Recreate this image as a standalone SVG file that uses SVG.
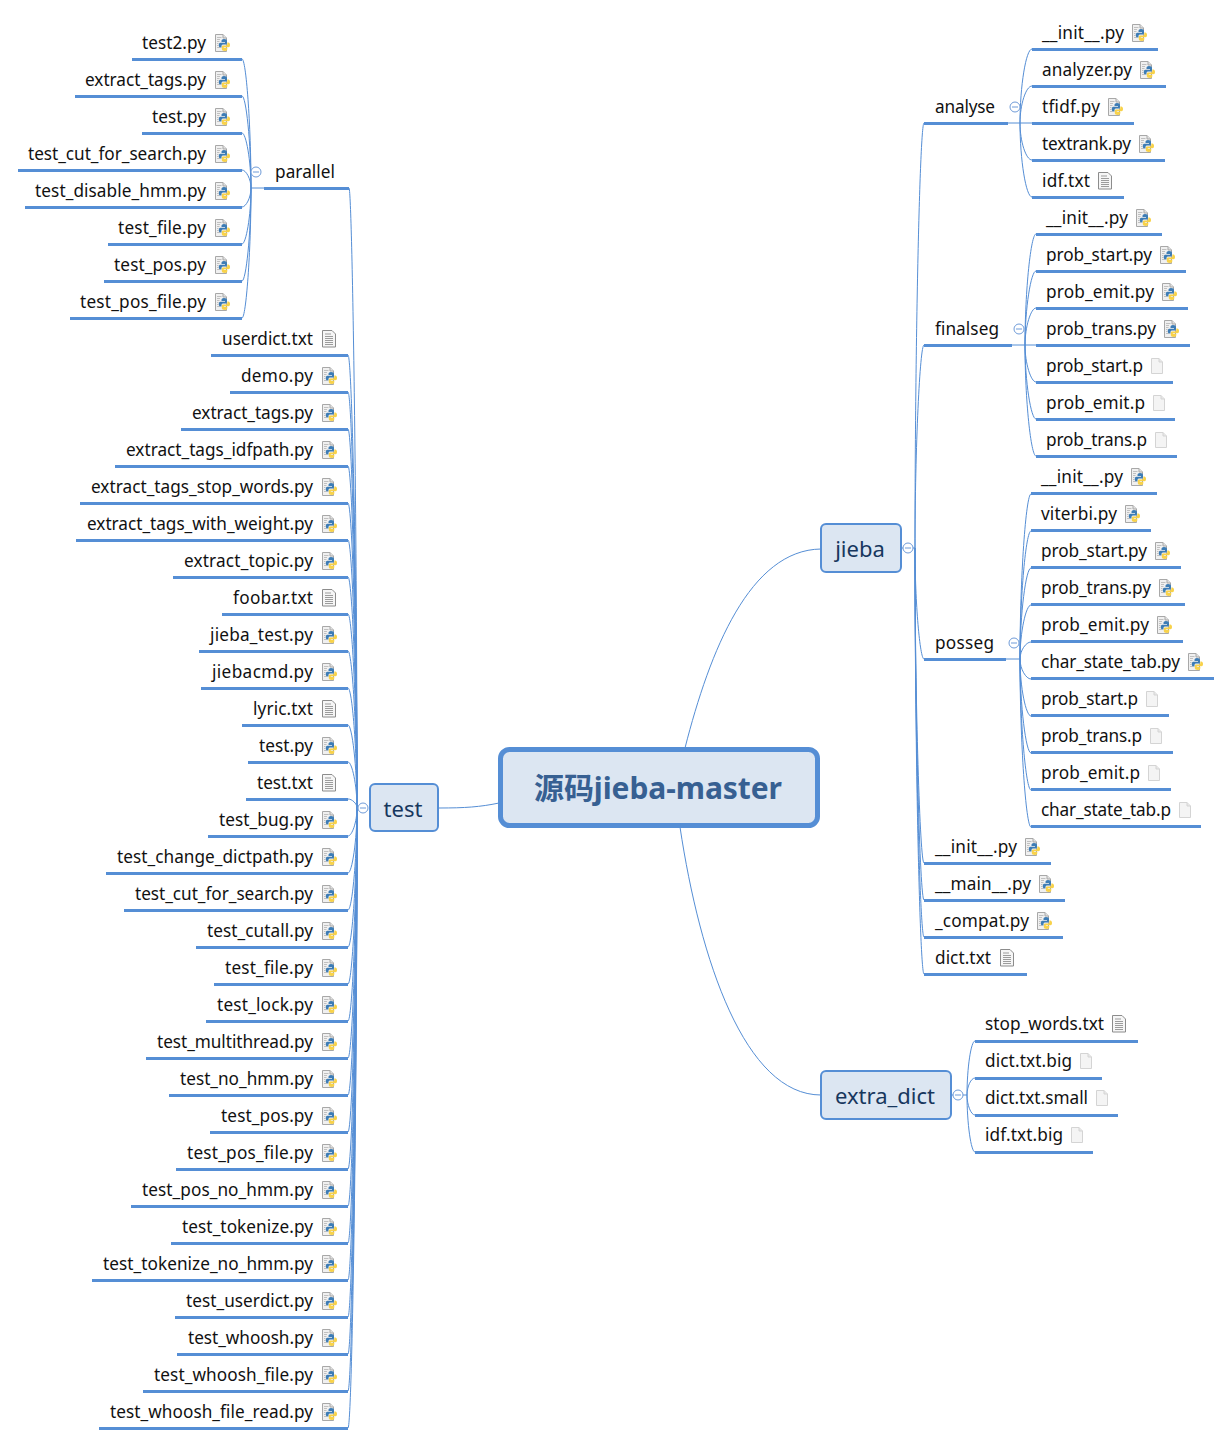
<svg xmlns="http://www.w3.org/2000/svg" width="1232" height="1445" viewBox="0 0 1232 1445">
<style>
text{font-family:"Noto Sans","Noto Sans CJK SC",sans-serif;font-size:17.200px;fill:#111}
.e{text-anchor:end}
.u{stroke:#558ed5;stroke-width:3;fill:none;transform:translateY(.5px)}
[id^=s] .u{transform:translateY(-.5px)}
.b{fill:#dce6f2;stroke:#558ed5;stroke-width:2}
.m{font-size:22px;fill:#17375e;text-anchor:middle}
.t{font-size:30px;font-weight:700;fill:#376092;text-anchor:middle}
#c path{fill:none;stroke:#558ed5;stroke-width:1}
.k circle{fill:#fff;stroke:#6f9bd8;stroke-width:1}
.k path{stroke:#6f9bd8;stroke-width:1}
</style>
<defs>
<symbol id="py" width="17" height="19" viewBox="0 0 17 19">
<path d="M.5.500H8L11.500 4V17.500H.5Z" fill="#f0f0f0" stroke="#a8a8a8"/>
<path d="M8 .5V4H11.500" fill="#e2e2e2" stroke="#a8a8a8"/>
<path d="M2 3.500H6.500M2 5.500H5M2 7.500H4.500M2 9.500H3.500M2 11.500H3.500M2 13.500H5" stroke="#c0c0c0" fill="none"/>
<path d="M9 5C7 5 6.500 6 6.500 7V8H10V8.700H5.500C4 8.700 3.800 10 3.800 11.200C3.800 12.500 4.500 13.500 5.500 13.500H6.500V12C6.500 11 7.300 10.500 8.200 10.500H10.500C11.500 10.500 12 9.800 12 9V7C12 5.800 11 5 9 5Z" fill="#3d7cb5"/>
<path d="M9 5C7 5 6.500 6 6.500 7V8H10V8.700H5.500C4 8.700 3.800 10 3.800 11.200C3.800 12.500 4.500 13.500 5.500 13.500H6.500V12C6.500 11 7.300 10.500 8.200 10.500H10.500C11.500 10.500 12 9.800 12 9V7C12 5.800 11 5 9 5Z" fill="#f8d24a" transform="rotate(180 9.400 11)"/>
</symbol>
<symbol id="tx" width="14" height="18" viewBox="0 0 14 18">
<path d="M.5.500H10L13.500 4V17H.5Z" fill="#f6f6f6" stroke="#8c8c8c"/>
<path d="M3 4H9M3 6.500H11M3 8.500H11M3 10.500H11M3 12.500H11M3 14.500H11" stroke="#9c9c9c" fill="none"/>
</symbol>
<symbol id="bl" width="12" height="16" viewBox="0 0 12 16">
<path d="M.5.500H8L11.500 4V15.500H.5Z" fill="#f4f4f4" stroke="#d4d4d4"/>
<path d="M8 .5V4H11.500" fill="#e8e8e8" stroke="#d4d4d4"/>
</symbol>
<g id="minus" class="k"><circle r="5"/><path d="M-3 0H3"/></g>
</defs>
<rect width="1232" height="1445" fill="#fff"/>
<g id="c">
<path d="M439 808C465 808 480 807 499 803"/>
<path d="M685 748C710 650 750 550 821 549"/>
<path d="M680 827C700 960 745 1095 821 1095"/>
<path d="M357 808C357 498 352 188 349 188"/>
<path d="M357 808C357 581.500 352 355 348 355"/>
<path d="M357 808C357 600 352 392 348 392"/>
<path d="M357 808C357 618.500 352 429 348 429"/>
<path d="M357 808C357 637 352 466 348 466"/>
<path d="M357 808C357 655.500 352 503 348 503"/>
<path d="M357 808C357 674 352 540 348 540"/>
<path d="M357 808C357 692.500 352 577 348 577"/>
<path d="M357 808C357 711 352 614 348 614"/>
<path d="M357 808C357 729.500 352 651 348 651"/>
<path d="M357 808C357 748 352 688 348 688"/>
<path d="M357 808C357 766.500 352 725 348 725"/>
<path d="M357 808C357 785 352 762 348 762"/>
<path d="M357 808C357 803.500 352 799 348 799"/>
<path d="M357 808C357 822 352 836 348 836"/>
<path d="M357 808C357 840.500 352 873 348 873"/>
<path d="M357 808C357 859 352 910 348 910"/>
<path d="M357 808C357 877.500 352 947 348 947"/>
<path d="M357 808C357 896 352 984 348 984"/>
<path d="M357 808C357 914.500 352 1021 348 1021"/>
<path d="M357 808C357 933 352 1058 348 1058"/>
<path d="M357 808C357 951.500 352 1095 348 1095"/>
<path d="M357 808C357 970 352 1132 348 1132"/>
<path d="M357 808C357 988.500 352 1169 348 1169"/>
<path d="M357 808C357 1007 352 1206 348 1206"/>
<path d="M357 808C357 1025.500 352 1243 348 1243"/>
<path d="M357 808C357 1044 352 1280 348 1280"/>
<path d="M357 808C357 1062.500 352 1317 348 1317"/>
<path d="M357 808C357 1081 352 1354 348 1354"/>
<path d="M357 808C357 1099.500 352 1391 348 1391"/>
<path d="M357 808C357 1118 352 1428 348 1428"/>
<path d="M264 188H251"/>
<path d="M251 188C251 123.500 246 59 242 59"/>
<path d="M251 188C251 142 246 96 242 96"/>
<path d="M251 188C251 160.500 246 133 242 133"/>
<path d="M251 188C251 179 246 170 242 170"/>
<path d="M251 188C251 197.500 246 207 242 207"/>
<path d="M251 188C251 216 246 244 242 244"/>
<path d="M251 188C251 234.500 246 281 242 281"/>
<path d="M251 188C251 253 246 318 242 318"/>
<path d="M902 548H915"/>
<path d="M915 548C915 335.500 920 123 924 123"/>
<path d="M915 548C915 446.500 920 345 924 345"/>
<path d="M915 548C915 603.500 920 659 924 659"/>
<path d="M915 548C915 705.500 920 863 924 863"/>
<path d="M915 548C915 724 920 900 924 900"/>
<path d="M915 548C915 742.500 920 937 924 937"/>
<path d="M915 548C915 761 920 974 924 974"/>
<path d="M1008 123H1032"/>
<path d="M1020 123C1020 86 1026 49 1032 49"/>
<path d="M1020 123C1020 104.500 1026 86 1032 86"/>
<path d="M1020 123C1020 141.500 1026 160 1032 160"/>
<path d="M1020 123C1020 160 1026 197 1032 197"/>
<path d="M1012 345H1036"/>
<path d="M1025 345C1025 289.500 1031 234 1036 234"/>
<path d="M1025 345C1025 308 1031 271 1036 271"/>
<path d="M1025 345C1025 326.500 1031 308 1036 308"/>
<path d="M1025 345C1025 363.500 1031 382 1036 382"/>
<path d="M1025 345C1025 382 1031 419 1036 419"/>
<path d="M1025 345C1025 400.500 1031 456 1036 456"/>
<path d="M1006 659H1020"/>
<path d="M1020 659C1020 576.500 1026 494 1031 494"/>
<path d="M1020 659C1020 595 1026 531 1031 531"/>
<path d="M1020 659C1020 613.500 1026 568 1031 568"/>
<path d="M1020 659C1020 632 1026 605 1031 605"/>
<path d="M1020 659C1020 650.500 1026 642 1031 642"/>
<path d="M1020 659C1020 669 1026 679 1031 679"/>
<path d="M1020 659C1020 687.500 1026 716 1031 716"/>
<path d="M1020 659C1020 706 1026 753 1031 753"/>
<path d="M1020 659C1020 724.500 1026 790 1031 790"/>
<path d="M1020 659C1020 743 1026 827 1031 827"/>
<path d="M952 1095H967"/>
<path d="M967 1095C967 1068 971 1041 975 1041"/>
<path d="M967 1095C967 1086.500 971 1078 975 1078"/>
<path d="M967 1095C967 1105 971 1115 975 1115"/>
<path d="M967 1095C967 1123.500 971 1152 975 1152"/>
</g>
<g id="root"><rect x="500.500" y="749.500" width="317" height="76" rx="9" fill="#dce6f2" stroke="#558ed5" stroke-width="5"/><text class="t" x="658" y="799" textLength="248">源码jieba-master</text></g>
<g id="test"><rect class="b" x="370" y="784" width="68" height="47" rx="5"/><text class="m" x="403" y="817">test</text><use href="#minus" x="363" y="808"/></g>
<g id="jieba"><rect class="b" x="821" y="524" width="80" height="48" rx="5"/><text class="m" x="860" y="557">jieba</text><use href="#minus" x="908" y="548"/></g>
<g id="extra_dict"><rect class="b" x="821" y="1071" width="130" height="48" rx="5"/><text class="m" x="885" y="1104">extra_dict</text><use href="#minus" x="958" y="1095"/></g>
<g id="parallel"><path class="u" d="M264 188H349"/><text x="275" y="178" textLength="60">parallel</text><use href="#minus" x="256" y="172"/></g>
<g id="p1"><path class="u" d="M132 59H242"/><text class="e" x="206" y="49" textLength="64">test2.py</text><use href="#py" x="215" y="34"/></g>
<g id="p2"><path class="u" d="M75 96H242"/><text class="e" x="206" y="86" textLength="121">extract_tags.py</text><use href="#py" x="215" y="71"/></g>
<g id="p3"><path class="u" d="M142 133H242"/><text class="e" x="206" y="123" textLength="54">test.py</text><use href="#py" x="215" y="108"/></g>
<g id="p4"><path class="u" d="M18 170H242"/><text class="e" x="206" y="160" textLength="178">test_cut_for_search.py</text><use href="#py" x="215" y="145"/></g>
<g id="p5"><path class="u" d="M25 207H242"/><text class="e" x="206" y="197" textLength="171">test_disable_hmm.py</text><use href="#py" x="215" y="182"/></g>
<g id="p6"><path class="u" d="M108 244H242"/><text class="e" x="206" y="234" textLength="88">test_file.py</text><use href="#py" x="215" y="219"/></g>
<g id="p7"><path class="u" d="M104 281H242"/><text class="e" x="206" y="271" textLength="92">test_pos.py</text><use href="#py" x="215" y="256"/></g>
<g id="p8"><path class="u" d="M70 318H242"/><text class="e" x="206" y="308" textLength="126">test_pos_file.py</text><use href="#py" x="215" y="293"/></g>
<g id="t1"><path class="u" d="M211 355H348"/><text class="e" x="313" y="345" textLength="91">userdict.txt</text><use href="#tx" x="322" y="330"/></g>
<g id="t2"><path class="u" d="M230 392H348"/><text class="e" x="313" y="382" textLength="72">demo.py</text><use href="#py" x="322" y="367"/></g>
<g id="t3"><path class="u" d="M181 429H348"/><text class="e" x="313" y="419" textLength="121">extract_tags.py</text><use href="#py" x="322" y="404"/></g>
<g id="t4"><path class="u" d="M115 466H348"/><text class="e" x="313" y="456" textLength="187">extract_tags_idfpath.py</text><use href="#py" x="322" y="441"/></g>
<g id="t5"><path class="u" d="M80 503H348"/><text class="e" x="313" y="493" textLength="222">extract_tags_stop_words.py</text><use href="#py" x="322" y="478"/></g>
<g id="t6"><path class="u" d="M76 540H348"/><text class="e" x="313" y="530" textLength="226">extract_tags_with_weight.py</text><use href="#py" x="322" y="515"/></g>
<g id="t7"><path class="u" d="M173 577H348"/><text class="e" x="313" y="567" textLength="129">extract_topic.py</text><use href="#py" x="322" y="552"/></g>
<g id="t8"><path class="u" d="M222 614H348"/><text class="e" x="313" y="604" textLength="80">foobar.txt</text><use href="#tx" x="322" y="589"/></g>
<g id="t9"><path class="u" d="M199 651H348"/><text class="e" x="313" y="641" textLength="103">jieba_test.py</text><use href="#py" x="322" y="626"/></g>
<g id="t10"><path class="u" d="M201 688H348"/><text class="e" x="313" y="678" textLength="101">jiebacmd.py</text><use href="#py" x="322" y="663"/></g>
<g id="t11"><path class="u" d="M242 725H348"/><text class="e" x="313" y="715" textLength="60">lyric.txt</text><use href="#tx" x="322" y="700"/></g>
<g id="t12"><path class="u" d="M248 762H348"/><text class="e" x="313" y="752" textLength="54">test.py</text><use href="#py" x="322" y="737"/></g>
<g id="t13"><path class="u" d="M246 799H348"/><text class="e" x="313" y="789" textLength="56">test.txt</text><use href="#tx" x="322" y="774"/></g>
<g id="t14"><path class="u" d="M208 836H348"/><text class="e" x="313" y="826" textLength="94">test_bug.py</text><use href="#py" x="322" y="811"/></g>
<g id="t15"><path class="u" d="M106 873H348"/><text class="e" x="313" y="863" textLength="196">test_change_dictpath.py</text><use href="#py" x="322" y="848"/></g>
<g id="t16"><path class="u" d="M124 910H348"/><text class="e" x="313" y="900" textLength="178">test_cut_for_search.py</text><use href="#py" x="322" y="885"/></g>
<g id="t17"><path class="u" d="M196 947H348"/><text class="e" x="313" y="937" textLength="106">test_cutall.py</text><use href="#py" x="322" y="922"/></g>
<g id="t18"><path class="u" d="M214 984H348"/><text class="e" x="313" y="974" textLength="88">test_file.py</text><use href="#py" x="322" y="959"/></g>
<g id="t19"><path class="u" d="M206 1021H348"/><text class="e" x="313" y="1011" textLength="96">test_lock.py</text><use href="#py" x="322" y="996"/></g>
<g id="t20"><path class="u" d="M146 1058H348"/><text class="e" x="313" y="1048" textLength="156">test_multithread.py</text><use href="#py" x="322" y="1033"/></g>
<g id="t21"><path class="u" d="M169 1095H348"/><text class="e" x="313" y="1085" textLength="133">test_no_hmm.py</text><use href="#py" x="322" y="1070"/></g>
<g id="t22"><path class="u" d="M210 1132H348"/><text class="e" x="313" y="1122" textLength="92">test_pos.py</text><use href="#py" x="322" y="1107"/></g>
<g id="t23"><path class="u" d="M176 1169H348"/><text class="e" x="313" y="1159" textLength="126">test_pos_file.py</text><use href="#py" x="322" y="1144"/></g>
<g id="t24"><path class="u" d="M131 1206H348"/><text class="e" x="313" y="1196" textLength="171">test_pos_no_hmm.py</text><use href="#py" x="322" y="1181"/></g>
<g id="t25"><path class="u" d="M171 1243H348"/><text class="e" x="313" y="1233" textLength="131">test_tokenize.py</text><use href="#py" x="322" y="1218"/></g>
<g id="t26"><path class="u" d="M92 1280H348"/><text class="e" x="313" y="1270" textLength="210">test_tokenize_no_hmm.py</text><use href="#py" x="322" y="1255"/></g>
<g id="t27"><path class="u" d="M175 1317H348"/><text class="e" x="313" y="1307" textLength="127">test_userdict.py</text><use href="#py" x="322" y="1292"/></g>
<g id="t28"><path class="u" d="M177 1354H348"/><text class="e" x="313" y="1344" textLength="125">test_whoosh.py</text><use href="#py" x="322" y="1329"/></g>
<g id="t29"><path class="u" d="M143 1391H348"/><text class="e" x="313" y="1381" textLength="159">test_whoosh_file.py</text><use href="#py" x="322" y="1366"/></g>
<g id="t30"><path class="u" d="M99 1428H348"/><text class="e" x="313" y="1418" textLength="203">test_whoosh_file_read.py</text><use href="#py" x="322" y="1403"/></g>
<g id="analyse"><path class="u" d="M924 123H1008"/><text x="935" y="113" textLength="60">analyse</text><use href="#minus" x="1015" y="107"/></g>
<g id="a1"><path class="u" d="M1032 49H1158"/><text x="1042" y="39" textLength="82">__init__.py</text><use href="#py" x="1132" y="24"/></g>
<g id="a2"><path class="u" d="M1032 86H1166"/><text x="1042" y="76" textLength="90">analyzer.py</text><use href="#py" x="1140" y="61"/></g>
<g id="a3"><path class="u" d="M1032 123H1134"/><text x="1042" y="113" textLength="58">tfidf.py</text><use href="#py" x="1108" y="98"/></g>
<g id="a4"><path class="u" d="M1032 160H1165"/><text x="1042" y="150" textLength="89">textrank.py</text><use href="#py" x="1139" y="135"/></g>
<g id="a5"><path class="u" d="M1032 197H1124"/><text x="1042" y="187" textLength="48">idf.txt</text><use href="#tx" x="1098" y="172"/></g>
<g id="finalseg"><path class="u" d="M924 345H1012"/><text x="935" y="335" textLength="64">finalseg</text><use href="#minus" x="1019" y="329"/></g>
<g id="f1"><path class="u" d="M1036 234H1162"/><text x="1046" y="224" textLength="82">__init__.py</text><use href="#py" x="1136" y="209"/></g>
<g id="f2"><path class="u" d="M1036 271H1186"/><text x="1046" y="261" textLength="106">prob_start.py</text><use href="#py" x="1160" y="246"/></g>
<g id="f3"><path class="u" d="M1036 308H1188"/><text x="1046" y="298" textLength="108">prob_emit.py</text><use href="#py" x="1162" y="283"/></g>
<g id="f4"><path class="u" d="M1036 345H1190"/><text x="1046" y="335" textLength="110">prob_trans.py</text><use href="#py" x="1164" y="320"/></g>
<g id="f5"><path class="u" d="M1036 382H1173"/><text x="1046" y="372" textLength="97">prob_start.p</text><use href="#bl" x="1151" y="358"/></g>
<g id="f6"><path class="u" d="M1036 419H1175"/><text x="1046" y="409" textLength="99">prob_emit.p</text><use href="#bl" x="1153" y="395"/></g>
<g id="f7"><path class="u" d="M1036 456H1177"/><text x="1046" y="446" textLength="101">prob_trans.p</text><use href="#bl" x="1155" y="432"/></g>
<g id="posseg"><path class="u" d="M924 659H1006"/><text x="935" y="649" textLength="59">posseg</text><use href="#minus" x="1014" y="643"/></g>
<g id="s1"><path class="u" d="M1031 494H1157"/><text x="1041" y="483" textLength="82">__init__.py</text><use href="#py" x="1131" y="468"/></g>
<g id="s2"><path class="u" d="M1031 531H1151"/><text x="1041" y="520" textLength="76">viterbi.py</text><use href="#py" x="1125" y="505"/></g>
<g id="s3"><path class="u" d="M1031 568H1181"/><text x="1041" y="557" textLength="106">prob_start.py</text><use href="#py" x="1155" y="542"/></g>
<g id="s4"><path class="u" d="M1031 605H1185"/><text x="1041" y="594" textLength="110">prob_trans.py</text><use href="#py" x="1159" y="579"/></g>
<g id="s5"><path class="u" d="M1031 642H1183"/><text x="1041" y="631" textLength="108">prob_emit.py</text><use href="#py" x="1157" y="616"/></g>
<g id="s6"><path class="u" d="M1031 679H1214"/><text x="1041" y="668" textLength="139">char_state_tab.py</text><use href="#py" x="1188" y="653"/></g>
<g id="s7"><path class="u" d="M1031 716H1169"/><text x="1041" y="705" textLength="97">prob_start.p</text><use href="#bl" x="1146" y="691"/></g>
<g id="s8"><path class="u" d="M1031 753H1173"/><text x="1041" y="742" textLength="101">prob_trans.p</text><use href="#bl" x="1150" y="728"/></g>
<g id="s9"><path class="u" d="M1031 790H1171"/><text x="1041" y="779" textLength="99">prob_emit.p</text><use href="#bl" x="1148" y="765"/></g>
<g id="s10"><path class="u" d="M1031 827H1201"/><text x="1041" y="816" textLength="130">char_state_tab.p</text><use href="#bl" x="1179" y="802"/></g>
<g id="j4"><path class="u" d="M924 863H1051"/><text x="935" y="853" textLength="82">__init__.py</text><use href="#py" x="1025" y="838"/></g>
<g id="j5"><path class="u" d="M924 900H1065"/><text x="935" y="890" textLength="96">__main__.py</text><use href="#py" x="1039" y="875"/></g>
<g id="j6"><path class="u" d="M924 937H1063"/><text x="935" y="927" textLength="94">_compat.py</text><use href="#py" x="1037" y="912"/></g>
<g id="j7"><path class="u" d="M924 974H1027"/><text x="935" y="964" textLength="56">dict.txt</text><use href="#tx" x="1000" y="949"/></g>
<g id="e1"><path class="u" d="M975 1041H1138"/><text x="985" y="1030" textLength="119">stop_words.txt</text><use href="#tx" x="1112" y="1015"/></g>
<g id="e2"><path class="u" d="M975 1078H1102"/><text x="985" y="1067" textLength="87">dict.txt.big</text><use href="#bl" x="1080" y="1053"/></g>
<g id="e3"><path class="u" d="M975 1115H1118"/><text x="985" y="1104" textLength="103">dict.txt.small</text><use href="#bl" x="1096" y="1090"/></g>
<g id="e4"><path class="u" d="M975 1152H1093"/><text x="985" y="1141" textLength="78">idf.txt.big</text><use href="#bl" x="1071" y="1127"/></g>
</svg>
